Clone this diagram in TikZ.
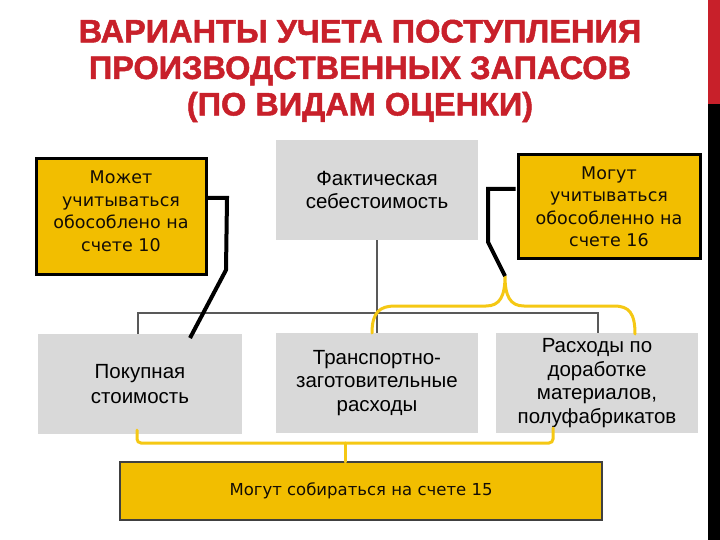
\documentclass[tikz,border=0pt]{standalone}
\usepackage{fontspec}
\setmainfont{Liberation Sans}
\newfontfamily\titlefont{Liberation Sans}[BoldFeatures={FakeBold=1.5}]
\newfontfamily\verd{DejaVu Sans}
\newfontfamily\arl{Liberation Sans}
\definecolor{tred}{RGB}{200,32,42}
\definecolor{yel}{RGB}{242,190,0}
\definecolor{byel}{RGB}{245,200,20}
\definecolor{gbox}{RGB}{217,217,217}
\definecolor{tline}{RGB}{89,89,89}
\begin{document}
\begin{tikzpicture}[x=1pt,y=-1pt,
  ybox/.style={draw=black,line width=3pt,fill=yel,align=center,inner sep=1pt,
     font=\verd\fontsize{17.5}{22.5}\selectfont,text=black!90!brown},
  gbx/.style={fill=gbox,align=center,minimum width=202pt,minimum height=100pt,
     inner sep=1pt,font=\arl\fontsize{20.5}{23.5}\selectfont},
  tree/.style={draw=tline,line width=2pt},
  brace/.style={draw=byel,line width=3pt,line cap=round},
  blk/.style={draw=black,line width=4pt}]
\useasboundingbox (0,0) rectangle (720,540);
\fill[white] (0,0) rectangle (720,540);
% right bar
\fill[tred] (708,0) rectangle (720,104);
\fill[black] (708,104) rectangle (720,540);
% title
\node[text=tred,align=center,font=\titlefont\bfseries\fontsize{32.5}{36.5}\selectfont] (title) at (360,71)
  {ВАРИАНТЫ УЧЕТА ПОСТУПЛЕНИЯ\\ПРОИЗВОДСТВЕННЫХ ЗАПАСОВ\\(ПО ВИДАМ ОЦЕНКИ)};
% boxes
\node[ybox,minimum width=170pt,minimum height=115pt] (lb) at (121,216.5)
  {Может\\учитываться\\обособлено на\\счете 10\\[-12pt]\mbox{}};
\node[gbx] (fact) at (377,190) {Фактическая\\себестоимость};
\node[ybox,minimum width=182pt,minimum height=103pt] (rb) at (609,206.5)
  {Могут\\учитываться\\обособленно на\\счете 16};
\node[gbx,minimum width=204pt,font=\arl\fontsize{20.5}{25.5}\selectfont] (pok) at (140,384) {Покупная\\стоимость};
\node[gbx] (tz) at (377,383) {Транспортно-\\заготовительные\\расходы};
\node[gbx] (dor) at (597,383) {Расходы по\\доработке\\материалов,\\полуфабрикатов};
\node[draw=black!75,line width=1.5pt,fill=yel,minimum width=482pt,minimum height=58pt,
  font=\verd\fontsize{16.5}{20}\selectfont,text=black!90!brown] (b15) at (361,491)
  {Могут собираться на счете 15};
% tree
\coordinate (j) at (377,313);
\draw[tree] (fact.south) -- (j);
\draw[tree] (tz.north) -- (j);
\draw[tree] ([xshift=-2pt]pok.north) |- (j);
\draw[tree] ([xshift=1pt]dor.north) |- (j);
% upper brace
\coordinate (bp) at (505,276);
\draw[brace] (372,333) .. controls (372,312) and (380,306) .. (395,306) -- (486,306)
  .. controls (500,306) and (505,296) .. (bp)
  .. controls (505,296) and (510,306) .. (524,306) -- (614,306)
  .. controls (629,306) and (635,313) .. (635,334);
% bottom bracket
\coordinate (bt) at (345,462);
\draw[brace,rounded corners=4pt] (137,430) -- (137,443) -- (553,443) -- (553,428);
\draw[brace] (345,443) -- (bt);
% black lines
\coordinate (l1) at (227,198);
\draw[blk,line cap=butt] ([yshift=18.5pt]lb.east) -- (l1) -- (226,270) -- (190,338);
\draw[blk,line cap=butt] ([yshift=17.5pt,xshift=-1pt]rb.west) -- (488,189) -- (488,242) -- (bp);
\end{tikzpicture}
\end{document}
